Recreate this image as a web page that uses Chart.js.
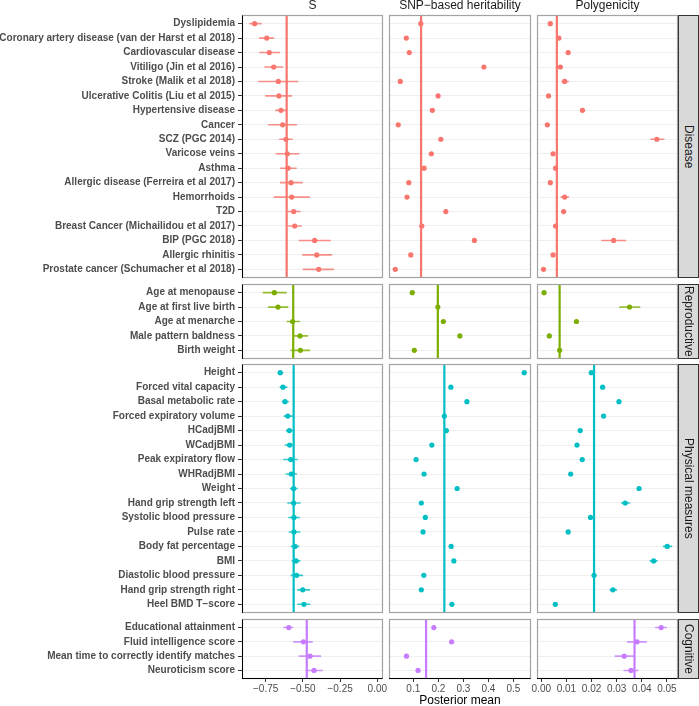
<!DOCTYPE html>
<html>
<head>
<meta charset="utf-8">
<script src="https://cdn.jsdelivr.net/npm/chart.js@4.4.1/dist/chart.umd.min.js"></script>
<style>
  html, body { margin: 0; padding: 0; background: #fff; }
  #wrap { position: relative; width: 699px; height: 706px; overflow: hidden; background: #fff;
          font-family: 'Liberation Sans', Arial, sans-serif; }
  #wrap canvas { position: absolute; }
  .colstrip { position: absolute; top: -1px; height: 13px; line-height: 13px; font-size: 12px;
              color: #1a1a1a; text-align: center; white-space: nowrap; }
  .rowstrip { position: absolute; left: 678px; width: 21px; box-sizing: border-box; background: #d9d9d9;
              border: 1px solid #333; font-size: 12px; color: #1a1a1a; writing-mode: vertical-rl;
              text-align: center; line-height: 19px; white-space: nowrap; overflow: hidden; }
</style>
</head>
<body>
<div id="wrap"></div>
<script>
// facet names and colours
const groupNames = ["Disease", "Reproductive", "Physical measures", "Cognitive"];
const groupColors = ["#F8766D", "#7CAE00", "#00BFC4", "#C77CFF"];
const columnNames = ["S", "SNP\u2212based heritability", "Polygenicity"];

// x ticks per column
const sTicks = [-0.75, -0.5, -0.25, 0];
const sTickLabels = ["\u22120.75", "\u22120.50", "\u22120.25", "0.00"];
const h2Ticks = [0.1, 0.2, 0.3, 0.4, 0.5];
const h2TickLabels = ["0.1", "0.2", "0.3", "0.4", "0.5"];
const polyTicks = [0, 0.01, 0.02, 0.03, 0.04, 0.05];
const polyTickLabels = ["0.00", "0.01", "0.02", "0.03", "0.04", "0.05"];

// Disease
const diseaseLabels = ["Dyslipidemia", "Coronary artery disease (van der Harst et al 2018)", "Cardiovascular disease",
  "Vitiligo (Jin et al 2016)", "Stroke (Malik et al 2018)", "Ulcerative Colitis (Liu et al 2015)", "Hypertensive disease",
  "Cancer", "SCZ (PGC 2014)", "Varicose veins", "Asthma", "Allergic disease (Ferreira et al 2017)", "Hemorrhoids", "T2D",
  "Breast Cancer (Michailidou et al 2017)", "BIP (PGC 2018)", "Allergic rhinitis", "Prostate cancer (Schumacher et al 2018)"];
const diseaseS = [-0.824, -0.743, -0.726, -0.696, -0.665, -0.661, -0.647, -0.636, -0.614, -0.605, -0.600, -0.580, -0.575, -0.562, -0.555, -0.421, -0.407, -0.394];
const diseaseSLow = [-0.860, -0.795, -0.793, -0.759, -0.800, -0.753, -0.685, -0.733, -0.659, -0.683, -0.654, -0.654, -0.696, -0.602, -0.598, -0.528, -0.504, -0.501];
const diseaseSHigh = [-0.777, -0.694, -0.654, -0.632, -0.531, -0.573, -0.607, -0.540, -0.569, -0.524, -0.542, -0.501, -0.454, -0.515, -0.508, -0.313, -0.304, -0.291];
const diseaseH2 = [0.130, 0.072, 0.084, 0.382, 0.048, 0.199, 0.176, 0.040, 0.210, 0.172, 0.143, 0.082, 0.075, 0.230, 0.134, 0.344, 0.090, 0.028];
const diseasePoly = [0.0036, 0.0070, 0.0107, 0.0076, 0.0093, 0.0029, 0.0164, 0.0024, 0.0460, 0.0047, 0.0057, 0.0036, 0.0093, 0.0089, 0.0057, 0.0288, 0.0047, 0.0009];
const diseasePolyLow = [null, null, null, null, 0.0080, null, null, null, 0.0434, null, null, null, 0.0077, null, null, 0.0239, null, null];
const diseasePolyHigh = [null, null, null, null, 0.0110, null, null, null, 0.0490, null, null, null, 0.0110, null, null, 0.0338, null, null];

// Reproductive
const reproLabels = ["Age at menopause", "Age at first live birth", "Age at menarche", "Male pattern baldness", "Birth weight"];
const reproS = [-0.692, -0.667, -0.569, -0.519, -0.517];
const reproSLow = [-0.770, -0.735, -0.609, -0.565, -0.582];
const reproSHigh = [-0.609, -0.598, -0.520, -0.466, -0.452];
const reproH2 = [0.096, 0.198, 0.220, 0.286, 0.104];
const reproPoly = [0.0011, 0.0351, 0.0140, 0.0032, 0.0073];
const reproPolyLow = [null, 0.0310, null, null, null];
const reproPolyHigh = [null, 0.0394, null, null, null];

// Physical measures
const physLabels = ["Height", "Forced vital capacity", "Basal metabolic rate", "Forced expiratory volume", "HCadjBMI",
  "WCadjBMI", "Peak expiratory flow", "WHRadjBMI", "Weight", "Hand grip strength left", "Systolic blood pressure",
  "Pulse rate", "Body fat percentage", "BMI", "Diastolic blood pressure", "Hand grip strength right", "Heel BMD T\u2212score"];
const physS = [-0.652, -0.634, -0.620, -0.602, -0.591, -0.589, -0.582, -0.578, -0.562, -0.562, -0.560, -0.560, -0.553, -0.546, -0.542, -0.501, -0.493];
const physSLow = [-0.669, -0.656, -0.642, -0.629, -0.614, -0.622, -0.632, -0.616, -0.587, -0.605, -0.598, -0.595, -0.582, -0.575, -0.582, -0.538, -0.538];
const physSHigh = [-0.632, -0.605, -0.595, -0.565, -0.569, -0.565, -0.535, -0.540, -0.535, -0.515, -0.520, -0.517, -0.524, -0.517, -0.499, -0.452, -0.450];
const physH2 = [0.543, 0.250, 0.314, 0.224, 0.232, 0.174, 0.111, 0.143, 0.275, 0.132, 0.148, 0.139, 0.251, 0.262, 0.142, 0.132, 0.254];
const physPoly = [0.0199, 0.0244, 0.0309, 0.0248, 0.0155, 0.0142, 0.0163, 0.0117, 0.0389, 0.0334, 0.0196, 0.0107, 0.0501, 0.0447, 0.0210, 0.0285, 0.0056];
const physPolyLow = [null, null, null, null, null, null, null, null, null, 0.0317, null, null, 0.0484, 0.0431, null, 0.0272, null];
const physPolyHigh = [null, null, null, null, null, null, null, null, null, 0.0354, null, null, 0.0521, 0.0463, null, 0.0301, null];

// Cognitive
const cogLabels = ["Educational attainment", "Fluid intelligence score", "Mean time to correctly identify matches", "Neuroticism score"];
const cogS = [-0.595, -0.497, -0.452, -0.425];
const cogSLow = [-0.632, -0.565, -0.528, -0.481];
const cogSHigh = [-0.565, -0.434, -0.378, -0.367];
const cogH2 = [0.182, 0.253, 0.073, 0.119];
const cogPoly = [0.0477, 0.0381, 0.0330, 0.0357];
const cogPolyLow = [0.0453, 0.0341, 0.0292, 0.0327];
const cogPolyHigh = [0.0500, 0.0420, 0.0370, 0.0387];

// group means (vertical lines), per group
const meanS = [-0.609, -0.565, -0.562, -0.474];
const meanH2 = [0.131, 0.198, 0.224, 0.151];
const meanPoly = [0.0062, 0.0073, 0.0210, 0.0371];

// ---- layout ----
const colBox = [[242, 383], [389, 531], [537, 678]];
const rowBox = [[15, 278], [284, 359], [364, 613], [619, 679]];
const colRange = [[-0.909, 0.038], [0.003, 0.570], [-0.0017, 0.0544]];
const P = 20;
const AXIS_H = 29;

const groups = [
  { labels: diseaseLabels, cols: [[diseaseS, diseaseSLow, diseaseSHigh], [diseaseH2, null, null], [diseasePoly, diseasePolyLow, diseasePolyHigh]] },
  { labels: reproLabels, cols: [[reproS, reproSLow, reproSHigh], [reproH2, null, null], [reproPoly, reproPolyLow, reproPolyHigh]] },
  { labels: physLabels, cols: [[physS, physSLow, physSHigh], [physH2, null, null], [physPoly, physPolyLow, physPolyHigh]] },
  { labels: cogLabels, cols: [[cogS, cogSLow, cogSHigh], [cogH2, null, null], [cogPoly, cogPolyLow, cogPolyHigh]] }
];
const colMeans = [meanS, meanH2, meanPoly];
const colTicks = [sTicks, h2Ticks, polyTicks];
const colTickLabels = [sTickLabels, h2TickLabels, polyTickLabels];

Chart.defaults.font.family = "'Liberation Sans', Arial, sans-serif";

const wrap = document.getElementById("wrap");

function fade(hex, a) {
  const n = parseInt(hex.slice(1), 16);
  return `rgba(${n >> 16}, ${(n >> 8) & 255}, ${n & 255}, ${a})`;
}

function errorBarPoints(lo, hi) {
  const pts = [];
  if (!lo) return pts;
  lo.forEach((l, i) => {
    if (l === null) return;
    pts.push({ x: l, y: i }, { x: hi[i], y: i }, { x: l, y: null });
  });
  return pts;
}

// grey panel frame, black axis lines on the outer left / bottom
const panelFrame = {
  id: "panelFrame",
  afterDatasetsDraw(chart, args, opts) {
    const { ctx, chartArea: a } = chart;
    const l = a.left + 0.5, t = a.top + 0.5, r = a.right - 0.5, b = a.bottom - 0.5;
    ctx.save();
    ctx.lineWidth = 1.2;
    ctx.strokeStyle = "#a3a3a3";
    ctx.strokeRect(l, t, r - l, b - t);
    ctx.lineWidth = 1;
    ctx.strokeStyle = "#000";
    ctx.beginPath();
    if (opts.left) { ctx.moveTo(l, t); ctx.lineTo(l, b + 0.5); }
    if (opts.bottom) { ctx.moveTo(l - 0.5, b); ctx.lineTo(r, b); }
    ctx.stroke();
    ctx.restore();
  }
};

function makePanel(r, c) {
  const g = groups[r];
  const n = g.labels.length;
  const [vals, lo, hi] = g.cols[c];
  const color = groupColors[r];
  const mean = colMeans[c][r];
  const [x0, x1] = colBox[c];
  const [y0, y1] = rowBox[r];
  const leftAxis = c === 0 ? x0 : 0;
  const bottomAxis = r === 3 ? AXIS_H : 0;

  const cv = document.createElement("canvas");
  const w = (x1 - x0) + leftAxis + 2 * P;
  const h = (y1 - y0) + bottomAxis + 2 * P;
  cv.width = w;
  cv.height = h;
  cv.style.left = (x0 - leftAxis - P) + "px";
  cv.style.top = (y0 - P) + "px";
  cv.style.width = w + "px";
  cv.style.height = h + "px";
  wrap.appendChild(cv);

  new Chart(cv, {
    type: "scatter",
    data: {
      datasets: [
        {
          type: "scatter",
          data: vals.map((v, i) => ({ x: v, y: i })),
          pointRadius: 2.6,
          pointBackgroundColor: color,
          pointBorderColor: color,
          pointBorderWidth: 0,
          order: 0
        },
        {
          type: "line",
          data: errorBarPoints(lo, hi),
          borderColor: fade(color, 0.8),
          borderWidth: 1.6,
          pointRadius: 0,
          spanGaps: false,
          order: 1
        },
        {
          type: "line",
          data: [{ x: mean, y: -0.6 }, { x: mean, y: n - 0.4 }],
          borderColor: color,
          borderWidth: 2.2,
          pointRadius: 0,
          order: 2
        }
      ]
    },
    options: {
      responsive: false,
      animation: false,
      events: [],
      layout: { padding: P, autoPadding: false },
      plugins: {
        legend: { display: false },
        tooltip: { enabled: false },
        panelFrame: { left: c === 0, bottom: r === 3 }
      },
      scales: {
        x: {
          type: "linear",
          min: colRange[c][0],
          max: colRange[c][1],
          display: r === 3,
          afterBuildTicks: ax => { ax.ticks = colTicks[c].map(v => ({ value: v })); },
          afterFit: ax => { ax.height = r === 3 ? AXIS_H : 0; },
          border: { display: false },
          grid: { drawOnChartArea: false, drawTicks: true, tickLength: 3, tickColor: "#333", tickWidth: 1 },
          ticks: {
            color: "#4d4d4d", font: { size: 10 }, padding: 1, maxRotation: 0, autoSkip: false,
            callback: (v, i) => colTickLabels[c][i]
          },
          title: { display: c === 1, text: "Posterior mean", color: "#000", font: { size: 12 }, padding: 0 }
        },
        y: {
          type: "linear",
          reverse: true,
          min: -0.6,
          max: n - 0.4,
          afterBuildTicks: ax => { ax.ticks = g.labels.map((_, i) => ({ value: i })); },
          afterFit: ax => { ax.width = leftAxis; },
          border: { display: false },
          grid: { color: "#ebebeb", lineWidth: 0.8, drawTicks: c === 0, tickLength: 4, tickColor: "#333", tickWidth: 1 },
          ticks: {
            display: c === 0, autoSkip: false, color: "#4d4d4d",
            font: { size: 10, weight: "bold" }, padding: 3,
            callback: (v, i) => g.labels[i]
          }
        }
      }
    },
    plugins: [panelFrame]
  });
}

for (let r = 0; r < 4; r++) {
  for (let c = 0; c < 3; c++) makePanel(r, c);
}

// column strips (top)
columnNames.forEach((name, c) => {
  const d = document.createElement("div");
  d.className = "colstrip";
  d.style.left = colBox[c][0] + "px";
  d.style.width = (colBox[c][1] - colBox[c][0]) + "px";
  d.textContent = name;
  wrap.appendChild(d);
});

// row strips (right)
groupNames.forEach((name, r) => {
  const d = document.createElement("div");
  d.className = "rowstrip";
  d.style.top = rowBox[r][0] + "px";
  d.style.height = (rowBox[r][1] - rowBox[r][0]) + "px";
  d.textContent = name;
  wrap.appendChild(d);
});
</script>
</body>
</html>
